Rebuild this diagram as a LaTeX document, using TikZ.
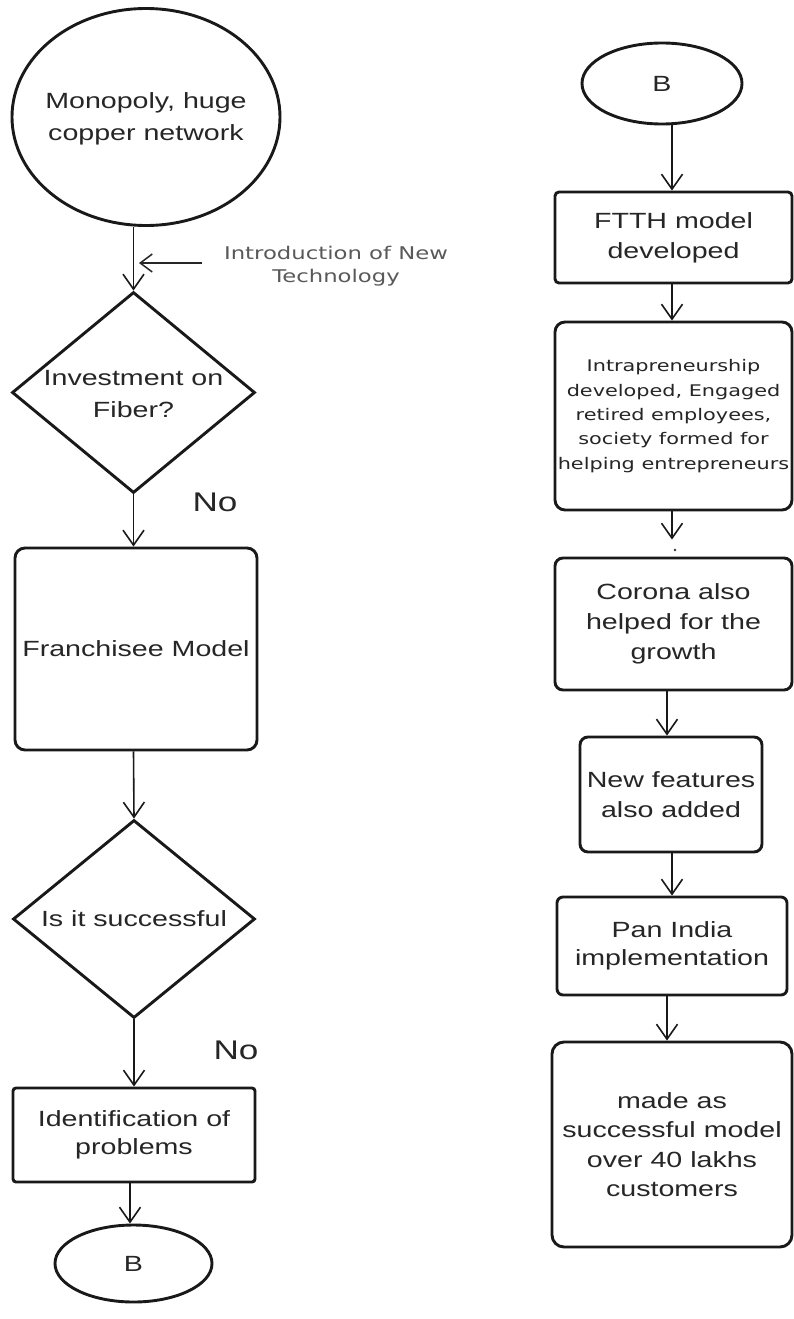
\documentclass[tikz,border=0pt]{standalone}
\usepackage{fontspec}
\setmainfont{Liberation Sans}[FakeStretch=1.3]
\newfontfamily\dvfont{DejaVu Sans}[FakeStretch=1.3]
\usetikzlibrary{shapes.geometric,arrows.meta}
\tikzset{
  shp/.style={draw=black!90, line width=2.9pt, align=center, inner sep=0pt, text=black!85,
    font=\fontsize{22}{30}\selectfont},
  rbox/.style={shp, rectangle, rounded corners=#1},
  rbox/.default=8pt,
  tlabel/.style={align=center, text=black!85, inner sep=0pt, font=\fontsize{22}{32}\selectfont},
  arr/.style={line width=1.6pt, draw=black!90, -{Straight Barb[length=15pt,width=21pt]}},
  nolabel/.style={text=black!85, inner sep=0pt, font=\fontsize{27}{30}\selectfont},
  notelabel/.style={align=center, text=black!65, inner sep=0pt, font=\dvfont\fontsize{17.5}{23}\selectfont},
}
\begin{document}
\begin{tikzpicture}[x=1pt,y=-1pt]
\useasboundingbox[fill=white] (0,0) rectangle (793,1319);

% ---------- left column ----------
\node[shp, ellipse, minimum width=268pt, minimum height=217pt,
  label={[tlabel, yshift=-2pt]center:Monopoly, huge\\copper network}] (start) at (146,117) {};
\node[shp, diamond, minimum width=243pt, minimum height=201pt,
  label={[tlabel, yshift=-1.5pt]center:Investment on\\Fiber?}] (d1) at (133.5,392.5) {};
\node[rbox=10pt, minimum width=242pt, minimum height=202pt] (fr) at (136,649) {Franchisee Model};
\node[shp, diamond, minimum width=242pt, minimum height=198pt,
  label={[tlabel]center:Is it successful}] (d2) at (134,919) {};
\node[rbox=3pt, minimum width=242pt, minimum height=94pt, font=\fontsize{22}{28}\selectfont] (id) at (134,1135) {Identification of\\problems};
\node[shp, ellipse, minimum width=157pt, minimum height=77pt] (b1) at (133.5,1263.5) {B};

\node[nolabel] (no1) at (215,502) {No};
\node[nolabel] (no2) at (236,1050) {No};

\node[notelabel] (intro) at (336,266) {Introduction of New\\Technology};
\coordinate (introtail) at (202,263);
\coordinate (introtip) at (139,263);

\draw[arr] (start.south -| d1.north) -- (d1.north);
\draw[line width=1.5pt, draw=black!85, -{Straight Barb[length=12pt,width=18pt]}] (introtail) -- (introtip);
\draw[arr] (d1.south) -- (d1.south |- fr.north);
\draw[arr] (d1.south |- fr.south) -- (d2.north);
\draw[arr] (d2.south) -- (d2.south |- id.north);
\draw[arr] ([xshift=-3.5pt]b1.north |- id.south) -- ([xshift=-3.5pt]b1.north);

% ---------- right column ----------
\node[shp, ellipse, minimum width=160pt, minimum height=81pt] (b2) at (662,83.5) {B};
\node[rbox=4pt, minimum width=237pt, minimum height=91pt] (ftth) at (673.5,237.5) {FTTH model\\developed};
\node[rbox=10pt, minimum width=237pt, minimum height=188pt, font=\dvfont\fontsize{16}{24.3}\selectfont] (intra) at (673.5,416)
  {Intrapreneurship\\developed, Engaged\\retired employees,\\society formed for\\helping entrepreneurs};
\node[rbox=8pt, minimum width=237pt, minimum height=132pt] (cor) at (673.5,624) {Corona also\\helped for the\\growth};
\node[rbox=8pt, minimum width=182pt, minimum height=115pt] (newf) at (671,794.5) {New features\\also added};
\node[rbox=6pt, minimum width=230pt, minimum height=98pt, font=\fontsize{22}{28}\selectfont] (pan) at (672,946) {Pan India\\implementation};
\node[rbox=12pt, minimum width=240pt, minimum height=205pt, font=\fontsize{22}{29.5}\selectfont] (made) at (672,1144.5) {made as\\successful model\\over 40 lakhs\\customers};

\draw[arr] ([xshift=10pt]b2.south) -- ([xshift=10pt]b2.south |- ftth.north);
\draw[arr] (ftth.south -| b2.south) ++(10pt,0) coordinate (fa) -- (fa |- intra.north);
\draw[arr, shorten >=17pt] ([xshift=-1.5pt]intra.south) -- ([xshift=-1.5pt]intra.south |- cor.north);
\fill[black!80] (675,550) circle (1.3pt);
\draw[arr] (cor.south -| newf.north) ++(-4pt,0) coordinate (ca) -- (ca |- newf.north);
\draw[arr] (newf.south) ++(1pt,0) coordinate (na) -- (na |- pan.north);
\draw[arr] (pan.south) ++(-5pt,0) coordinate (pa) -- (pa |- made.north);
\end{tikzpicture}
\end{document}
